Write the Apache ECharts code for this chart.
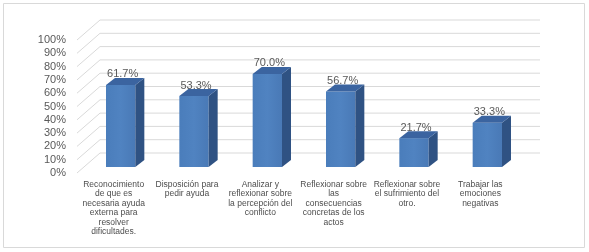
<!DOCTYPE html>
<html>
<head>
<meta charset="utf-8">
<script src="https://cdn.jsdelivr.net/npm/echarts@6/dist/echarts.min.js"></script>
<style>
  html, body { margin: 0; padding: 0; background: #fff; }
  #chart { width: 589px; height: 252px; }
</style>
</head>
<body>
<div id="chart"></div>
<script>
// categorias y valores (%)
var categorias = [
    'Reconocimiento\nde que es\nnecesaria ayuda\nexterna para\nresolver\ndificultades.',
    'Disposición para\npedir ayuda',
    'Analizar y\nreflexionar sobre\nla percepción del\nconflicto',
    'Reflexionar sobre\nlas\nconsecuencias\nconcretas de los\nactos',
    'Reflexionar sobre\nel sufrimiento del\notro.',
    'Trabajar las\nemociones\nnegativas'
];
var valores = [61.7, 53.3, 70.0, 56.7, 21.7, 33.3];
var marcas = [0, 10, 20, 30, 40, 50, 60, 70, 80, 90, 100];

// efecto 3D
var FONDO_X = 23, FONDO_Y = -20;   // pared del fondo
var BARRA_X = 7, BARRA_Y = -6;     // cara frontal de la barra
var PROF_X = 9, PROF_Y = -7;       // profundidad de la barra

var dom = document.getElementById('chart');
var myChart = echarts.init(dom);

function pared(params, api) {
    var cs = params.coordSys;
    var p = api.coord([0, api.value(1)]);
    var estilo = {stroke: '#D9D9D9', lineWidth: 1};
    return {
        type: 'group',
        children: [
            {type: 'line', shape: {x1: cs.x, y1: p[1], x2: cs.x + FONDO_X, y2: p[1] + FONDO_Y}, style: estilo},
            {type: 'line', shape: {x1: cs.x + FONDO_X, y1: p[1] + FONDO_Y, x2: cs.x + cs.width + FONDO_X, y2: p[1] + FONDO_Y}, style: estilo}
        ]
    };
}

function barra(params, api) {
    var tope = api.coord([api.value(0), api.value(1)]);
    var base = api.coord([api.value(0), 0]);
    var ancho = api.size([1, 0])[0] * 0.4;
    var x1 = tope[0] - ancho / 2 + BARRA_X;
    var x2 = x1 + ancho;
    var ty = tope[1] + BARRA_Y;
    var by = base[1] + BARRA_Y;
    return {
        type: 'group',
        children: [
            {
                type: 'rect',
                shape: {x: x1, y: ty, width: ancho, height: by - ty},
                style: {
                    fill: new echarts.graphic.LinearGradient(0, 0, 1, 0, [
                        {offset: 0, color: '#4A7DBB'},
                        {offset: 0.5, color: '#5083C1'},
                        {offset: 1, color: '#4979B6'}
                    ])
                }
            },
            {
                type: 'polygon',
                shape: {points: [[x2, ty], [x2 + PROF_X, ty + PROF_Y], [x2 + PROF_X, by + PROF_Y], [x2, by]]},
                style: {fill: '#2F5283'}
            },
            {
                type: 'polygon',
                shape: {points: [[x1, ty], [x1 + PROF_X, ty + PROF_Y], [x2 + PROF_X, ty + PROF_Y], [x2, ty]]},
                style: {fill: '#3B64A0'}
            },
            {
                type: 'text',
                style: {
                    text: api.value(1).toFixed(1) + '%',
                    x: (x1 + x2) / 2 + 2,
                    y: ty + PROF_Y + 2,
                    textAlign: 'center',
                    textVerticalAlign: 'bottom',
                    fill: '#595959',
                    font: '11px "Liberation Sans", Arial, sans-serif'
                }
            }
        ]
    };
}

option = {
    animation: false,
    textStyle: {fontFamily: '"Liberation Sans", Arial, sans-serif'},
    graphic: [{
        type: 'rect',
        shape: {x: 3.5, y: 3.5, width: 581, height: 244},
        style: {fill: 'none', stroke: '#D9D9D9', lineWidth: 1},
        silent: true
    }],
    grid: {left: 77, top: 40, width: 440, height: 133},
    xAxis: {
        type: 'category',
        data: categorias,
        axisLine: {show: false},
        axisTick: {show: false},
        splitLine: {show: false},
        axisLabel: {
            interval: 0,
            margin: 7,
            fontSize: 8.5,
            lineHeight: 9.4,
            color: '#4D4D4D',
            verticalAlign: 'top'
        }
    },
    yAxis: {
        type: 'value',
        min: 0,
        max: 100,
        interval: 10,
        axisLine: {show: false},
        axisTick: {show: false},
        splitLine: {show: false},
        axisLabel: {
            formatter: '{value}%',
            margin: 11,
            fontSize: 11,
            color: '#595959'
        }
    },
    series: [
        {
            type: 'custom',
            name: 'pared',
            renderItem: pared,
            data: marcas.map(function (m) { return [0, m]; }),
            z: 1,
            silent: true
        },
        {
            type: 'custom',
            name: 'barras',
            renderItem: barra,
            data: valores.map(function (v, i) { return [i, v]; }),
            z: 2
        }
    ]
};

myChart.setOption(option);
</script>
</body>
</html>
